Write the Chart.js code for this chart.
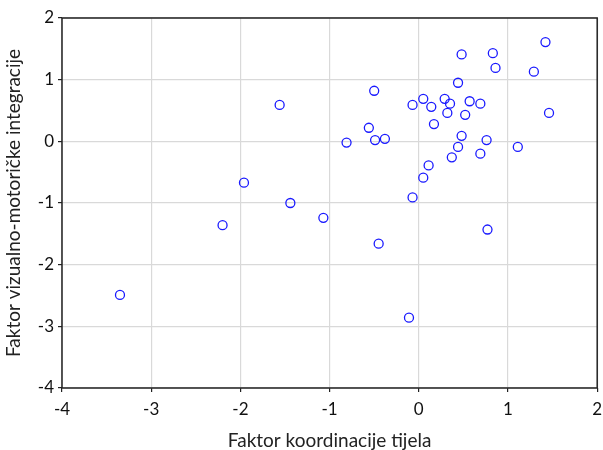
<!DOCTYPE html>
<html>
<head>
<meta charset="utf-8">
<script src="https://cdn.jsdelivr.net/npm/chart.js@4"></script>
<style>
  html, body { margin: 0; padding: 0; background: #fff; }
  #wrap { width: 603px; height: 450px; }
</style>
</head>
<body>
<div id="wrap"><canvas id="scatter" width="603" height="450"></canvas></div>
<script>
// faktor koordinacije tijela (x) vs. faktor vizualno-motoričke integracije (y)
const xValues = [1.42, 0.48, 0.83, 0.86, 1.29, 0.44, -0.50, 0.05, 0.29, -0.07,
                 0.14, 0.35, 0.57, 0.69, 0.32, 0.52, 1.46, 0.17, -0.56, -0.49,
                 -0.38, -0.81, 0.48, 0.76, 0.44, 1.11, 0.69, 0.37, 0.11, 0.05,
                 -0.07, -1.07, 0.77, -1.56, -1.96, -1.44, -2.20, -3.35, -0.45, -0.11];
const yValues = [1.61, 1.41, 1.43, 1.19, 1.13, 0.95, 0.82, 0.69, 0.69, 0.59,
                 0.56, 0.61, 0.65, 0.61, 0.46, 0.43, 0.46, 0.28, 0.22, 0.02,
                 0.04, -0.02, 0.09, 0.02, -0.09, -0.09, -0.20, -0.26, -0.39, -0.59,
                 -0.91, -1.24, -1.43, 0.59, -0.67, -1.00, -1.36, -2.49, -1.66, -2.86];
const xTicks = [-4, -3, -2, -1, 0, 1, 2];
const yTicks = [-4, -3, -2, -1, 0, 1, 2];
const xTitle = 'Faktor koordinacije tijela';
const yTitle = 'Faktor vizualno-motoričke integracije';

const points = xValues.map((x, i) => ({ x: x, y: yValues[i] }));
const FONT = 'Lato, "Open Sans", sans-serif';

// black frame round the plot area
const frame = {
    id: 'frame',
    afterDraw(chart) {
        const { ctx, chartArea: a } = chart;
        ctx.save();
        ctx.strokeStyle = '#222';
        ctx.lineWidth = 1.5;
        ctx.strokeRect(a.left, a.top, a.right - a.left, a.bottom - a.top);
        ctx.restore();
    }
};

new Chart(document.getElementById('scatter').getContext('2d'), {
    type: 'scatter',
    data: {
        datasets: [{
            data: points,
            pointStyle: 'circle',
            pointRadius: 4.5,
            pointBorderWidth: 1.3,
            borderColor: '#1a1aff',
            backgroundColor: 'rgba(0,0,0,0)'
        }]
    },
    options: {
        responsive: false,
        animation: false,
        layout: { padding: { top: 18, right: 5, left: 0, bottom: 0 } },
        plugins: { legend: { display: false }, tooltip: { enabled: false } },
        scales: {
            x: {
                type: 'linear',
                min: -4, max: 2,
                afterBuildTicks: s => { s.ticks = xTicks.map(v => ({ value: v })); },
                afterFit: s => { s.height = 62; s.paddingRight = 0; s.paddingLeft = 0; },
                grid: { color: '#d9d9d9', lineWidth: 1.2, tickLength: 4, tickColor: '#222' },
                border: { display: false },
                ticks: { color: '#111', font: { family: FONT, size: 17 }, padding: 7, maxRotation: 0 },
                title: { display: true, text: xTitle, color: '#222', font: { family: FONT, size: 19 }, padding: { top: 9, bottom: -2 } }
            },
            y: {
                type: 'linear',
                min: -4, max: 2,
                afterBuildTicks: s => { s.ticks = yTicks.map(v => ({ value: v })); },
                afterFit: s => { s.width = 62; },
                grid: { color: '#d9d9d9', lineWidth: 1.2, tickLength: 4, tickColor: '#222' },
                border: { display: false },
                ticks: { color: '#111', font: { family: FONT, size: 17 }, padding: 4 },
                title: { display: true, text: yTitle, color: '#222', font: { family: FONT, size: 19 }, padding: { top: 2, bottom: 4 } }
            }
        }
    },
    plugins: [frame]
});
</script>
</body>
</html>
